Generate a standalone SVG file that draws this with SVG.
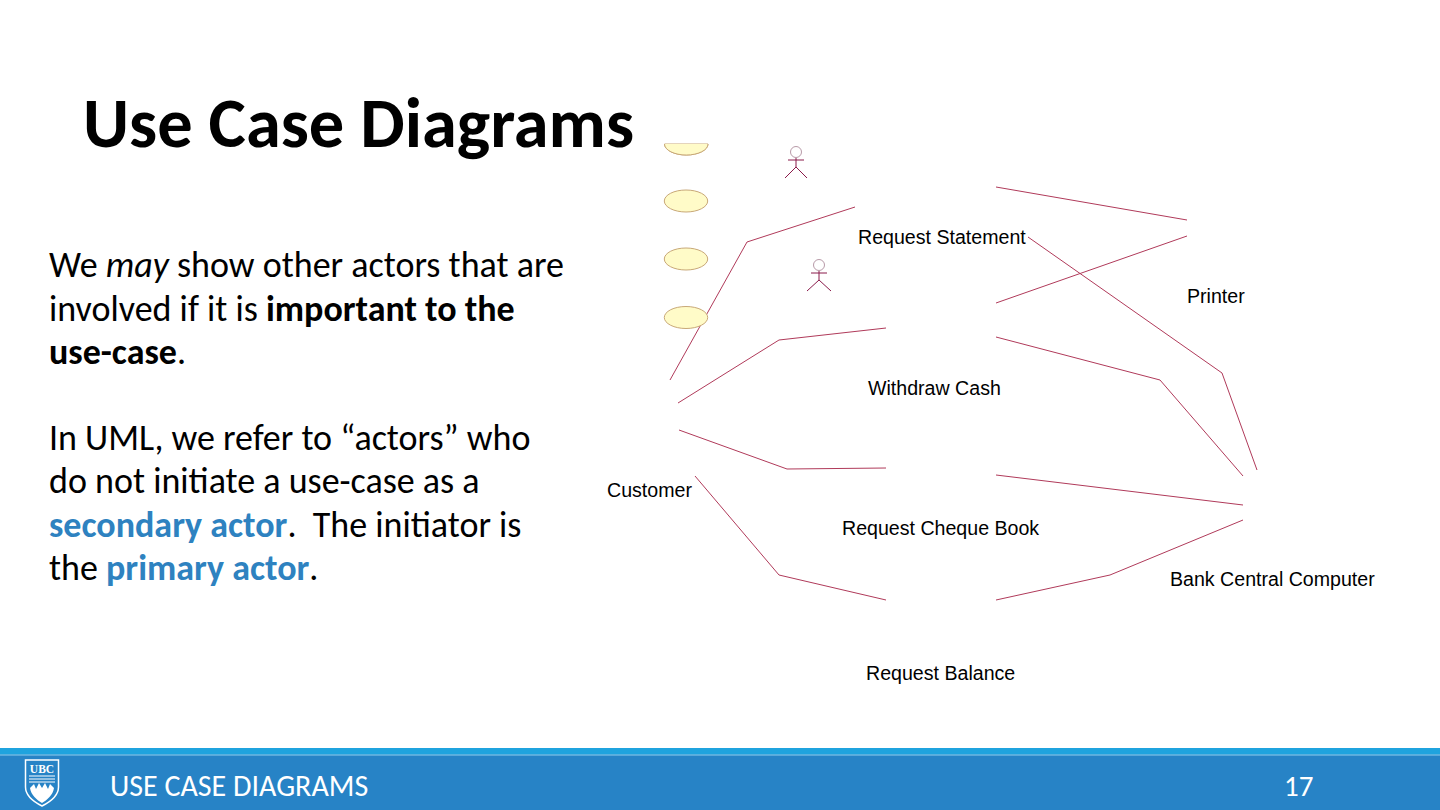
<svg xmlns="http://www.w3.org/2000/svg" width="1440" height="810" viewBox="0 0 1440 810">
<style>
.b{font-family:Carlito,Lato,sans-serif;font-size:36px;fill:#000}
.u{font-family:"Liberation Sans",Arial,sans-serif;font-size:19.600px;fill:#000}
.l{fill:none;stroke:#b03a5a;stroke-width:1}
.e{fill:#fffbc8;stroke:#c8a878;stroke-width:1}
.a{fill:none;stroke:#8a1a4a;stroke-width:1}
.hl{fill:#2e82c0;font-weight:700}
</style>
<rect width="1440" height="810" fill="#fff"/>
<text x="83" y="147" font-family="Carlito,Lato,sans-serif" font-weight="700" font-size="70.500" fill="#000">Use Case Diagrams</text>
<g id="body" class="b">
<text x="49" y="277">We <tspan font-style="italic">may</tspan> show other actors that are</text>
<text x="49" y="321">involved if it is <tspan font-weight="700">important to the</tspan></text>
<text x="49" y="364"><tspan font-weight="700">use-case</tspan>.</text>
<text x="49" y="450">In UML, we refer to “actors” who</text>
<text x="49" y="493">do not initiate a use-case as a</text>
<text x="49" y="537" xml:space="preserve"><tspan class="hl">secondary actor</tspan>.  The initiator is</text>
<text x="49" y="580">the <tspan class="hl">primary actor</tspan>.</text>
</g>
<g id="connectors">
<polyline class="l" points="670,380 747,242 855,207"/>
<polyline class="l" points="678,403 779,340 886,328"/>
<polyline class="l" points="679,430 787,469 886,468"/>
<polyline class="l" points="695,476 779,575 886,600"/>
<polyline class="l" points="996,187 1187,220"/>
<polyline class="l" points="996,303 1187,236"/>
<polyline class="l" points="1028,237 1222,373 1257,470"/>
<polyline class="l" points="996,337 1160,380 1243,476"/>
<polyline class="l" points="996,475 1243,505"/>
<polyline class="l" points="996,600 1110,575 1243,520"/>
</g>
<g id="usecase-1"><path class="e" d="M664.500 144 A21.700 11 0 0 0 708 144 Z" stroke="none"/><path class="e" fill="none" d="M664.500 144 A21.700 11 0 0 0 708 144"/></g>
<g id="usecase-2"><ellipse class="e" cx="686" cy="201" rx="21.700" ry="11"/></g>
<g id="usecase-3"><ellipse class="e" cx="686" cy="259" rx="21.700" ry="11"/></g>
<g id="usecase-4"><ellipse class="e" cx="686" cy="317.500" rx="21.700" ry="11"/></g>
<g id="actor-1" class="a"><circle cx="796" cy="152" r="5.500" stroke="#b89aa8"/><path d="M796 158V167M788 160H804M796 167L785 178M796 167L807 178"/></g>
<g id="actor-2" class="a"><circle cx="819" cy="265" r="5.500" stroke="#b89aa8"/><path d="M819 271V280M811 273H827M819 280L807 291M819 280L831 291"/></g>
<g id="labels" class="u">
<text x="858" y="244">Request Statement</text>
<text x="1187" y="303">Printer</text>
<text x="868" y="395">Withdraw Cash</text>
<text x="607" y="497">Customer</text>
<text x="842" y="535">Request Cheque Book</text>
<text x="1170" y="586">Bank Central Computer</text>
<text x="866" y="680">Request Balance</text>
</g>
<g id="footer">
<rect y="748" width="1440" height="62" fill="#2783c6"/>
<rect y="748" width="1440" height="6.500" fill="#1fa3de"/>
<rect y="754.500" width="1440" height="1" fill="#8fd0ee"/>
<path d="M25.500 760H58.500V787C58.500 796 50 802 42 806C34 802 25.500 796 25.500 787Z" fill="#2783c6" stroke="#fff" stroke-width="1.500"/>
<text x="42" y="773" font-family="Liberation Serif,serif" font-size="11.500" font-weight="700" fill="#fff" text-anchor="middle">UBC</text>
<path d="M29 776H55M29 779H55M29 782H55" stroke="#fff" stroke-width="1.200"/>
<path d="M30 788L34 784L36 789L39 783L42 788L45 783L48 789L50 784L54 788C53 795 47 800 42 803C37 800 31 795 30 788Z" fill="#fff"/>
<text x="110" y="796" font-family="Carlito,Lato,sans-serif" font-size="30" fill="#fff">USE CASE DIAGRAMS</text>
<text x="1284" y="796" font-family="Carlito,Lato,sans-serif" font-size="29" fill="#fff">17</text>
</g>
</svg>
